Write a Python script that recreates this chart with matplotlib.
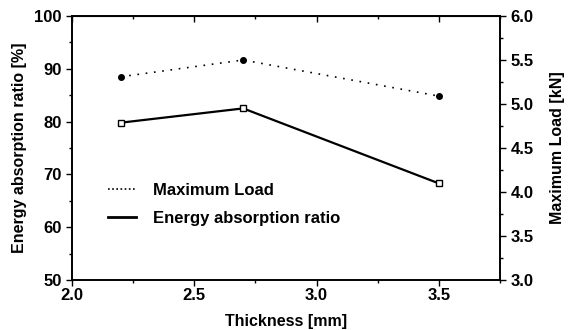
import matplotlib.pyplot as plt
from matplotlib.lines import Line2D
from matplotlib.ticker import MultipleLocator

plt.rcParams['font.family'] = ['Liberation Sans', 'DejaVu Sans']
plt.rcParams['font.weight'] = 'bold'

thickness = [2.2, 2.7, 3.5]
energy_ratio = [79.8, 82.5, 68.3]
max_load = [5.31, 5.50, 5.09]

x_ticks = [2.0, 2.5, 3.0, 3.5]
left_ticks = [50, 60, 70, 80, 90, 100]
right_ticks = [3.0, 3.5, 4.0, 4.5, 5.0, 5.5, 6.0]

fig = plt.figure(figsize=(5.74, 3.30), dpi=100)
ax = fig.add_axes([0.1254, 0.1515, 0.7456, 0.80])
ax2 = ax.twinx()

ax.plot(thickness, energy_ratio, color='black', lw=1.6, marker='s', ms=4.5,
        mfc='white', mec='black', mew=1.0, zorder=3)
ax2.plot(thickness, max_load, color='black', lw=1.2, ls=(0, (1, 4)), marker='o',
         ms=4, mfc='black', mec='black')

ax.set_xlim(2.0, 3.75)
ax.set_ylim(50, 100)
ax2.set_ylim(3.0, 6.0)

tick_font = {'fontweight': 'heavy', 'fontsize': 12, 'fontfamily': 'Liberation Sans'}
ax.set_xticks(x_ticks, ['%.1f' % v for v in x_ticks], **tick_font)
ax.set_yticks(left_ticks, ['%d' % v for v in left_ticks], **tick_font)
ax2.set_yticks(right_ticks, ['%.1f' % v for v in right_ticks], **tick_font)
ax.xaxis.set_minor_locator(MultipleLocator(0.25))
ax.yaxis.set_minor_locator(MultipleLocator(5))
ax2.yaxis.set_minor_locator(MultipleLocator(0.25))

# top axis: ticks pointing in, no labels
top = ax.secondary_xaxis('top')
top.xaxis.set_major_locator(MultipleLocator(0.5))
top.xaxis.set_minor_locator(MultipleLocator(0.25))
top.tick_params(which='both', direction='in', labeltop=False, width=1)
top.tick_params(which='major', length=4)
top.tick_params(which='minor', length=2.5)

for a in (ax, ax2):
    a.tick_params(which='both', direction='out', width=1)
    a.tick_params(which='major', length=4)
    a.tick_params(which='minor', length=2.5)
    for s in a.spines.values():
        s.set_linewidth(1.2)
ax.tick_params(axis='x', pad=1.5)

ax.set_xlabel('Thickness [mm]', fontsize=11.5, fontweight='bold', labelpad=8)
ax.set_ylabel('Energy absorption ratio [%]', fontsize=11.5, fontweight='bold', labelpad=5)
ax2.set_ylabel('Maximum Load [kN]', fontsize=11.5, fontweight='bold', labelpad=12)

handles = [Line2D([], [], color='black', lw=1.2, ls=(0, (1, 1.5))),
           Line2D([], [], color='black', lw=2)]
ax.legend(handles, ['Maximum Load', 'Energy absorption ratio'], frameon=False,
          loc='center left', bbox_to_anchor=(0.084, 0.286),
          handlelength=1.7, handletextpad=1.0, labelspacing=0.75,
          borderpad=0, borderaxespad=0,
          prop={'weight': 'bold', 'size': 12})

fig.savefig('out.png', dpi=100)
